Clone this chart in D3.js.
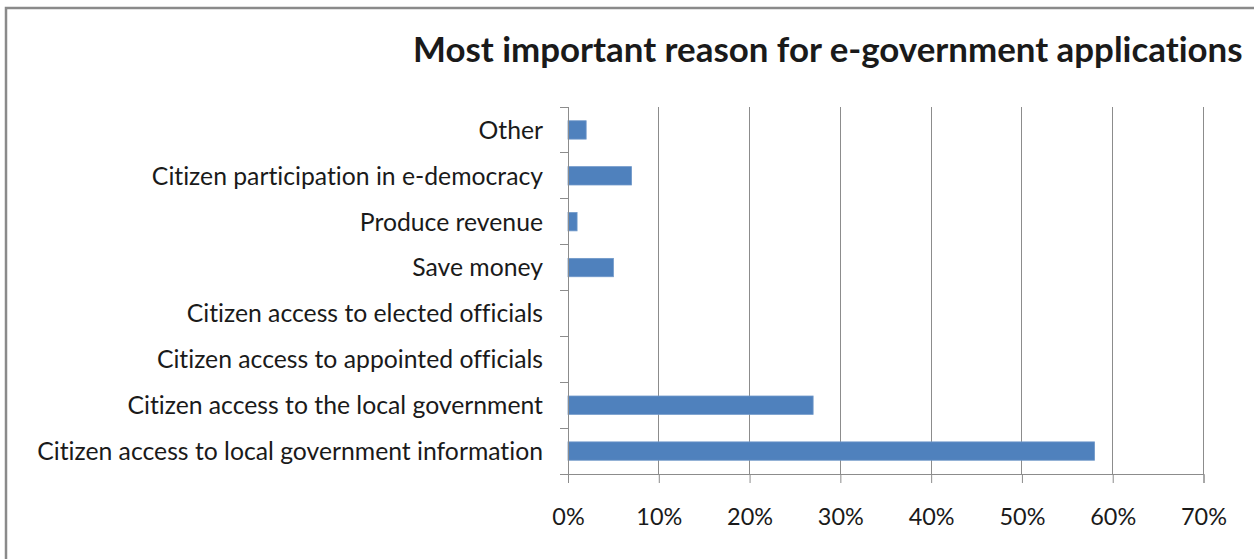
<!DOCTYPE html>
<html>
<head>
<meta charset="utf-8">
<script src="https://cdn.jsdelivr.net/npm/d3@7"></script>
<style>
  html, body { margin: 0; padding: 0; background: #fff; overflow: hidden; }
  text { font-family: Lato, "Open Sans", sans-serif; fill: #1a1a1a; font-variant-ligatures: none; }
</style>
</head>
<body>
<div id="chart"></div>
<script>
// data
const chartTitle = "Most important reason for e-government applications";
const categories = [
  "Other",
  "Citizen participation in e-democracy",
  "Produce revenue",
  "Save money",
  "Citizen access to elected officials",
  "Citizen access to appointed officials",
  "Citizen access to the local government",
  "Citizen access to local government information"
];
const values = [2, 7, 1, 5, 0, 0, 27, 58];
const xTicks = [0, 10, 20, 30, 40, 50, 60, 70];

const width = 1254, height = 559;
const margin = {top: 107, right: 50, bottom: 85, left: 568};

const svg = d3.select("#chart").append("svg")
  .attr("width", width)
  .attr("height", height);

// outer frame (chart border, cut off at right and bottom)
svg.append("rect")
  .attr("x", 6).attr("y", 8)
  .attr("width", width + 20).attr("height", height + 20)
  .attr("fill", "none")
  .attr("stroke", "#8a8a8a")
  .attr("stroke-width", 2.5);

const x = d3.scaleLinear().domain([0, 70]).range([margin.left, 1203.5]);
const y = d3.scaleBand().domain(categories)
  .range([margin.top, height - margin.bottom])
  .paddingInner(0.6).paddingOuter(0.3);

const gridColor = "#8c8c8c";

// vertical gridlines
svg.append("g").selectAll("line")
  .data(xTicks.slice(1))
  .join("line")
  .attr("x1", d => x(d)).attr("x2", d => x(d))
  .attr("y1", margin.top).attr("y2", height - margin.bottom)
  .attr("stroke", gridColor).attr("stroke-width", 1)
  .attr("shape-rendering", "crispEdges");

// bars
svg.append("g").selectAll("rect")
  .data(categories)
  .join("rect")
  .attr("x", x(0))
  .attr("y", d => y(d))
  .attr("width", (d, i) => x(values[i]) - x(0))
  .attr("height", y.bandwidth())
  .attr("fill", "#4f81bd")
  .attr("stroke", "#6f98c9")
  .attr("stroke-width", (d, i) => values[i] > 0 ? 0.8 : 0);

// x axis
const xAxis = svg.append("g")
  .attr("transform", `translate(0,${height - margin.bottom})`)
  .call(d3.axisBottom(x).tickValues(xTicks).tickFormat(d => d + "%").tickSize(9).tickPadding(42));
xAxis.select(".domain").attr("stroke", gridColor);
xAxis.selectAll(".tick line").attr("stroke", gridColor);
const tickTexts = xAxis.selectAll("text").attr("font-size", 22).attr("fill", "#1a1a1a")
  .attr("dy", "0em")
  .style("font-family", "Lato, 'Open Sans', sans-serif");
// fit tick label size: "10%" is about 46px wide in the reference
const tenW = tickTexts.filter(d => d === 10).node().getComputedTextLength();
tickTexts.attr("font-size", 22 * 46 / tenW);

// y axis: ticks at band boundaries
const boundaries = d3.range(categories.length + 1).map(i => margin.top + i * ((height - margin.bottom - margin.top) / categories.length));
svg.append("line")
  .attr("x1", x(0)).attr("x2", x(0))
  .attr("y1", margin.top).attr("y2", height - margin.bottom)
  .attr("stroke", gridColor).attr("shape-rendering", "crispEdges");
svg.append("g").selectAll("line")
  .data(boundaries)
  .join("line")
  .attr("x1", x(0) - 8).attr("x2", x(0))
  .attr("y1", d => d).attr("y2", d => d)
  .attr("stroke", gridColor).attr("shape-rendering", "crispEdges");

// category labels
const labels = svg.append("g").selectAll("text")
  .data(categories)
  .join("text")
  .attr("x", 543)
  .attr("y", d => y(d) + y.bandwidth() / 2)
  .attr("dy", "0.36em")
  .attr("text-anchor", "end")
  .attr("font-size", 22)
  .text(d => d);

// fit label size to the reference width of the longest label
let longest = 0;
labels.each(function() { longest = Math.max(longest, this.getComputedTextLength()); });
labels.attr("font-size", 22 * 506 / longest);

// title
const title = svg.append("text")
  .attr("x", 413)
  .attr("y", 62)
  .attr("font-size", 32)
  .attr("font-weight", "bold")
  .attr("fill", "#000")
  .text(chartTitle);
const tw = title.node().getComputedTextLength();
title.attr("font-size", 32 * 830 / tw);
</script>
</body>
</html>
